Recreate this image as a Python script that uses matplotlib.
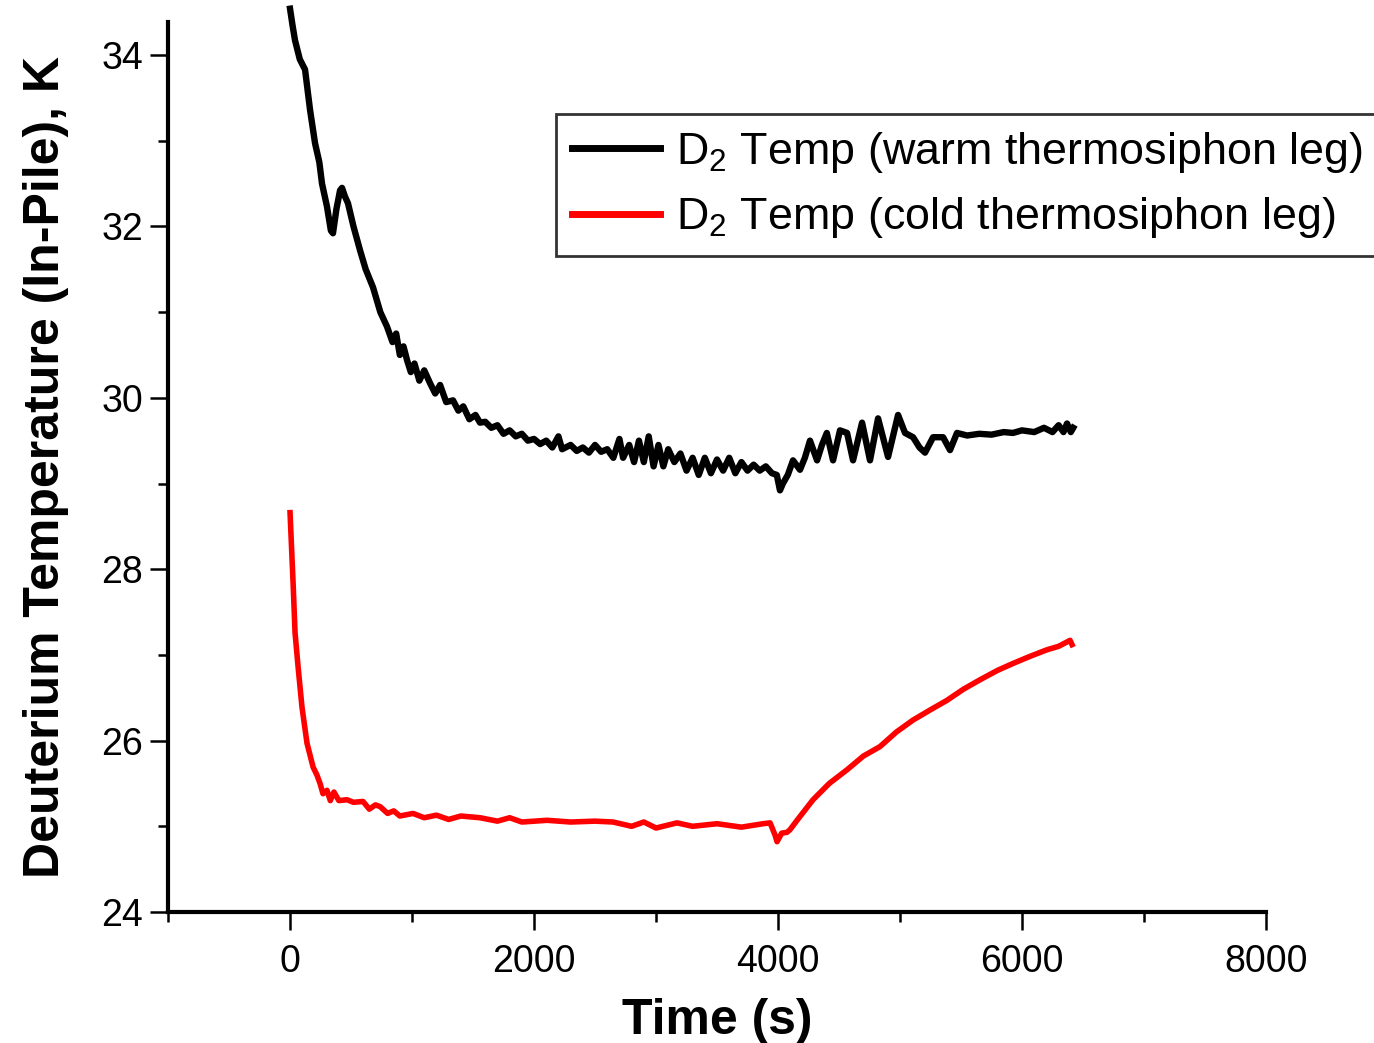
import matplotlib
matplotlib.use("Agg")
import matplotlib.pyplot as plt
from matplotlib.ticker import MultipleLocator, FixedLocator

plt.rcParams['font.family'] = ['Liberation Sans', 'DejaVu Sans']
plt.rcParams['mathtext.default'] = 'regular'

# warm thermosiphon leg (time s, temperature K)
warm_t = [0, 20, 41, 80, 123, 164, 205, 240, 262, 303, 335, 352, 380, 410, 426, 450, 475,
          520, 574, 620, 680, 740, 795, 840, 870, 900, 930, 959, 990, 1020, 1060, 1100,
          1148, 1190, 1230, 1280, 1336, 1380, 1420, 1470, 1520, 1557, 1600, 1650, 1700,
          1750, 1800, 1850, 1900, 1950, 2000, 2050, 2100, 2150, 2200, 2230, 2300, 2350,
          2400, 2450, 2500, 2550, 2600, 2650, 2700, 2730, 2780, 2820, 2860, 2900, 2940,
          2980, 3020, 3060, 3100, 3150, 3200, 3250, 3300, 3350, 3400, 3450, 3500, 3550,
          3600, 3650, 3700, 3750, 3800, 3850, 3900, 3950, 3990, 4016, 4040, 4080, 4123,
          4180, 4220, 4262, 4320, 4360, 4400, 4451, 4508, 4566, 4615, 4689, 4754, 4820,
          4902, 4984, 5041, 5107, 5160, 5205, 5271, 5353, 5410, 5467, 5550, 5650, 5750,
          5850, 5926, 6000, 6100, 6180, 6250, 6300, 6340, 6369, 6400, 6420]
warm_T = [34.54, 34.35, 34.17, 33.95, 33.83, 33.36, 32.97, 32.75, 32.5, 32.23, 31.95, 31.92,
          32.2, 32.42, 32.45, 32.35, 32.27, 32.0, 31.72, 31.5, 31.29, 31.0, 30.83, 30.65,
          30.75, 30.5, 30.6, 30.44, 30.3, 30.4, 30.2, 30.32, 30.17, 30.05, 30.15, 29.95,
          29.97, 29.85, 29.9, 29.75, 29.8, 29.71, 29.72, 29.65, 29.68, 29.58, 29.62, 29.55,
          29.58, 29.5, 29.52, 29.46, 29.5, 29.42, 29.55, 29.4, 29.45, 29.38, 29.42, 29.36,
          29.45, 29.37, 29.4, 29.3, 29.52, 29.3, 29.45, 29.25, 29.5, 29.25, 29.55, 29.2,
          29.45, 29.2, 29.4, 29.25, 29.35, 29.15, 29.3, 29.1, 29.3, 29.12, 29.28, 29.15,
          29.3, 29.12, 29.25, 29.15, 29.22, 29.15, 29.2, 29.12, 29.1, 28.92, 29.0, 29.1,
          29.27, 29.16, 29.3, 29.5, 29.27, 29.45, 29.59, 29.27, 29.62, 29.59, 29.27, 29.71,
          29.27, 29.76, 29.31, 29.8, 29.59, 29.54, 29.42, 29.36, 29.54, 29.54, 29.39, 29.59,
          29.56, 29.58, 29.57, 29.6, 29.59, 29.62, 29.6, 29.65, 29.6, 29.68, 29.6, 29.7,
          29.6, 29.65]

# cold thermosiphon leg
cold_t = [0, 25, 41, 66, 98, 139, 189, 220, 246, 270, 303, 330, 360, 400, 467, 520, 598,
          650, 700, 738, 800, 850, 900, 1008, 1100, 1200, 1300, 1400, 1557, 1700, 1800,
          1900, 2107, 2300, 2500, 2648, 2800, 2900, 3000, 3172, 3300, 3500, 3700, 3877,
          3935, 3975, 3992, 4030, 4074, 4098, 4156, 4287, 4420, 4566, 4700, 4836, 4970,
          5107, 5250, 5385, 5520, 5656, 5800, 5926, 6060, 6205, 6300, 6394, 6410]
cold_T = [28.66, 27.84, 27.26, 26.86, 26.39, 25.97, 25.69, 25.6, 25.5, 25.38, 25.42, 25.3,
          25.4, 25.3, 25.31, 25.28, 25.29, 25.2, 25.25, 25.23, 25.15, 25.18, 25.12, 25.15,
          25.1, 25.13, 25.08, 25.12, 25.1, 25.06, 25.1, 25.05, 25.07, 25.05, 25.06, 25.05,
          25.0, 25.05, 24.98, 25.04, 25.0, 25.03, 24.99, 25.03, 25.04, 24.9, 24.82, 24.92,
          24.93, 24.96, 25.07, 25.31, 25.5, 25.66, 25.82, 25.93, 26.1, 26.24, 26.36, 26.47,
          26.6, 26.71, 26.82, 26.9, 26.98, 27.06, 27.1, 27.17, 27.12]

labels = ["D$_2$ Temp (warm thermosiphon leg)", "D$_2$ Temp (cold thermosiphon leg)"]

fig = plt.figure(figsize=(13.74, 10.43), dpi=100)
ax = fig.add_axes([0.1223, 0.1256, 0.7991, 0.8533])

ax.plot(warm_t, warm_T, color='black', lw=4.6, label=labels[0], clip_on=False)
ax.plot(cold_t, cold_T, color='#ff0000', lw=4.0, label=labels[1], clip_on=False)

ax.set_xlim(-1000, 8000)
ax.set_ylim(24, 34.385)
ax.xaxis.set_major_locator(FixedLocator([0, 2000, 4000, 6000, 8000]))
ax.xaxis.set_minor_locator(MultipleLocator(1000))
ax.yaxis.set_major_locator(MultipleLocator(2))
ax.yaxis.set_minor_locator(MultipleLocator(1))

for s in ['top', 'right']:
    ax.spines[s].set_visible(False)
for s in ['left', 'bottom']:
    ax.spines[s].set_linewidth(3.0)

ax.tick_params(which='major', direction='out', length=13, width=1.8, labelsize=27)
ax.tick_params(which='minor', direction='out', length=7, width=1.8)
ax.tick_params(axis='x', which='major', pad=10)
ax.tick_params(axis='y', which='major', pad=5)

ax.set_xlabel("Time (s)", fontsize=36, fontweight='bold', labelpad=13)
ax.set_ylabel("Deuterium Temperature (In-Pile), K", fontsize=36, fontweight='bold', labelpad=23)

leg = ax.legend(loc='upper left', bbox_to_anchor=(556 / 1374, 1 - 114 / 1043),
                bbox_transform=fig.transFigure, fontsize=32.3, frameon=True, fancybox=False,
                borderaxespad=0, borderpad=0.36, handlelength=1.95, handletextpad=0.36,
                labelspacing=0.45)
leg.get_frame().set_edgecolor('black')
leg.get_frame().set_linewidth(2.0)
for line in leg.get_lines():
    line.set_linewidth(5.0)

fig.savefig("out.png", dpi=100)
